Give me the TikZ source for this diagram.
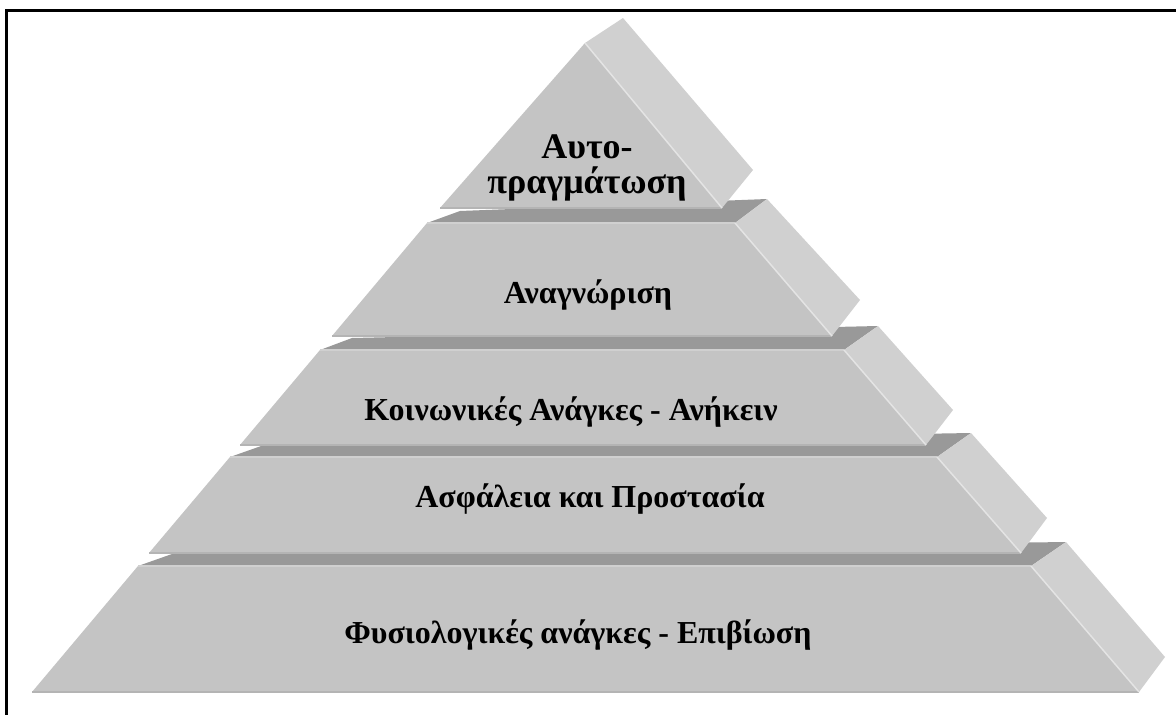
\documentclass[tikz,border=0pt]{standalone}
\usepackage{fontspec}
\setmainfont{Liberation Serif}
\usetikzlibrary{positioning}
\definecolor{frontgray}{HTML}{C4C4C4}
\definecolor{sidegray}{HTML}{D0D0D0}
\definecolor{topgray}{HTML}{999999}
\definecolor{ridgegray}{HTML}{E4E4E4}
\definecolor{rimgray}{HTML}{B4B4B4}
\begin{document}
\begin{tikzpicture}[x=1pt, y=-1pt,
  front/.style={fill=frontgray},
  side/.style={fill=sidegray},
  topface/.style={fill=topgray},
  ridge/.style={draw=ridgegray, line width=1.5pt},
  rim/.style={draw=rimgray, line width=2pt},
  lip/.style={draw=sidegray, line width=1.5pt},
  lbl/.style={font=\bfseries\fontsize{32}{34}\selectfont, anchor=base, align=center}]
  \useasboundingbox[fill=white] (0,0) rectangle (1176,715);
  % frame (left and top only)
  \draw[line width=3pt] (6.5,715) -- (6.5,10) -- (1176,10);
  % Tier 5: Fysiologikes anagkes
  \coordinate (t5a) at (138,566);  \coordinate (t5b) at (1031,566);
  \coordinate (t5c) at (1139,692); \coordinate (t5d) at (32,692);
  \coordinate (t5ab) at (172,554); \coordinate (t5bb) at (1066,542);
  \coordinate (t5cb) at (1165,657);
  \fill[topface] (t5a) -- (t5ab) -- (t5bb) -- (t5b) -- cycle;
  \fill[side] (t5b) -- (t5bb) -- (t5cb) -- (t5c) -- cycle;
  \fill[front] (t5a) -- (t5b) -- (t5c) -- (t5d) -- cycle;
  \draw[lip] (t5a) -- (t5b);
  \draw[rim] (t5d) -- (t5c);
  \draw[ridge] (t5b) -- (t5c);
  % Tier 4: Asfaleia
  \coordinate (t4a) at (230,457);  \coordinate (t4b) at (937,457);
  \coordinate (t4c) at (1021,553); \coordinate (t4d) at (149,553);
  \coordinate (t4ab) at (264,445); \coordinate (t4bb) at (971,433);
  \coordinate (t4cb) at (1047,518);
  \fill[topface] (t4a) -- (t4ab) -- (t4bb) -- (t4b) -- cycle;
  \fill[side] (t4b) -- (t4bb) -- (t4cb) -- (t4c) -- cycle;
  \fill[front] (t4a) -- (t4b) -- (t4c) -- (t4d) -- cycle;
  \draw[lip] (t4a) -- (t4b);
  \draw[rim] (t4d) -- (t4c);
  \draw[ridge] (t4b) -- (t4c);
  % Tier 3: Koinonikes anagkes
  \coordinate (t3a) at (320,350);  \coordinate (t3b) at (844,350);
  \coordinate (t3c) at (926,445);  \coordinate (t3d) at (240,445);
  \coordinate (t3ab) at (352,338); \coordinate (t3bb) at (878,326);
  \coordinate (t3cb) at (953,410);
  \fill[topface] (t3a) -- (t3ab) -- (t3bb) -- (t3b) -- cycle;
  \fill[side] (t3b) -- (t3bb) -- (t3cb) -- (t3c) -- cycle;
  \fill[front] (t3a) -- (t3b) -- (t3c) -- (t3d) -- cycle;
  \draw[lip] (t3a) -- (t3b);
  \draw[rim] (t3d) -- (t3c);
  \draw[ridge] (t3b) -- (t3c);
  % Tier 2: Anagnorisi
  \coordinate (t2a) at (427,223);  \coordinate (t2b) at (735,223);
  \coordinate (t2c) at (832,336);  \coordinate (t2d) at (332,336);
  \coordinate (t2ab) at (460,211); \coordinate (t2bb) at (767,199);
  \coordinate (t2cb) at (860,300);
  \fill[topface] (t2a) -- (t2ab) -- (t2bb) -- (t2b) -- cycle;
  \fill[side] (t2b) -- (t2bb) -- (t2cb) -- (t2c) -- cycle;
  \fill[front] (t2a) -- (t2b) -- (t2c) -- (t2d) -- cycle;
  \draw[lip] (t2a) -- (t2b);
  \draw[rim] (t2d) -- (t2c);
  \draw[ridge] (t2b) -- (t2c);
  % Tier 1: apex triangle
  \coordinate (t1a) at (585,43);   \coordinate (t1c) at (722,208);
  \coordinate (t1d) at (440,208);
  \coordinate (t1ab) at (623,18);  \coordinate (t1cb) at (753,170);
  \fill[side] (t1a) -- (t1ab) -- (t1cb) -- (t1c) -- cycle;
  \fill[front] (t1a) -- (t1c) -- (t1d) -- cycle;
  \draw[rim] (t1d) -- (t1c);
  \draw[ridge] (t1a) -- (t1c);
  % labels
  \node[lbl, anchor=center, inner sep=0pt, font=\bfseries\fontsize{36}{35}\selectfont]
    (lblself) at (587,168) {Αυτο-\\πραγμάτωση};
  \node[lbl] (lblesteem) at (588,303) {Αναγνώριση};
  \node[lbl] (lblsocial) at (571,420) {Κοινωνικές Ανάγκες - Ανήκειν};
  \node[lbl] (lblsafety) at (590,507) {Ασφάλεια και Προστασία};
  \node[lbl] (lblphys)   at (578,643) {Φυσιολογικές ανάγκες - Επιβίωση};
\end{tikzpicture}
\end{document}
